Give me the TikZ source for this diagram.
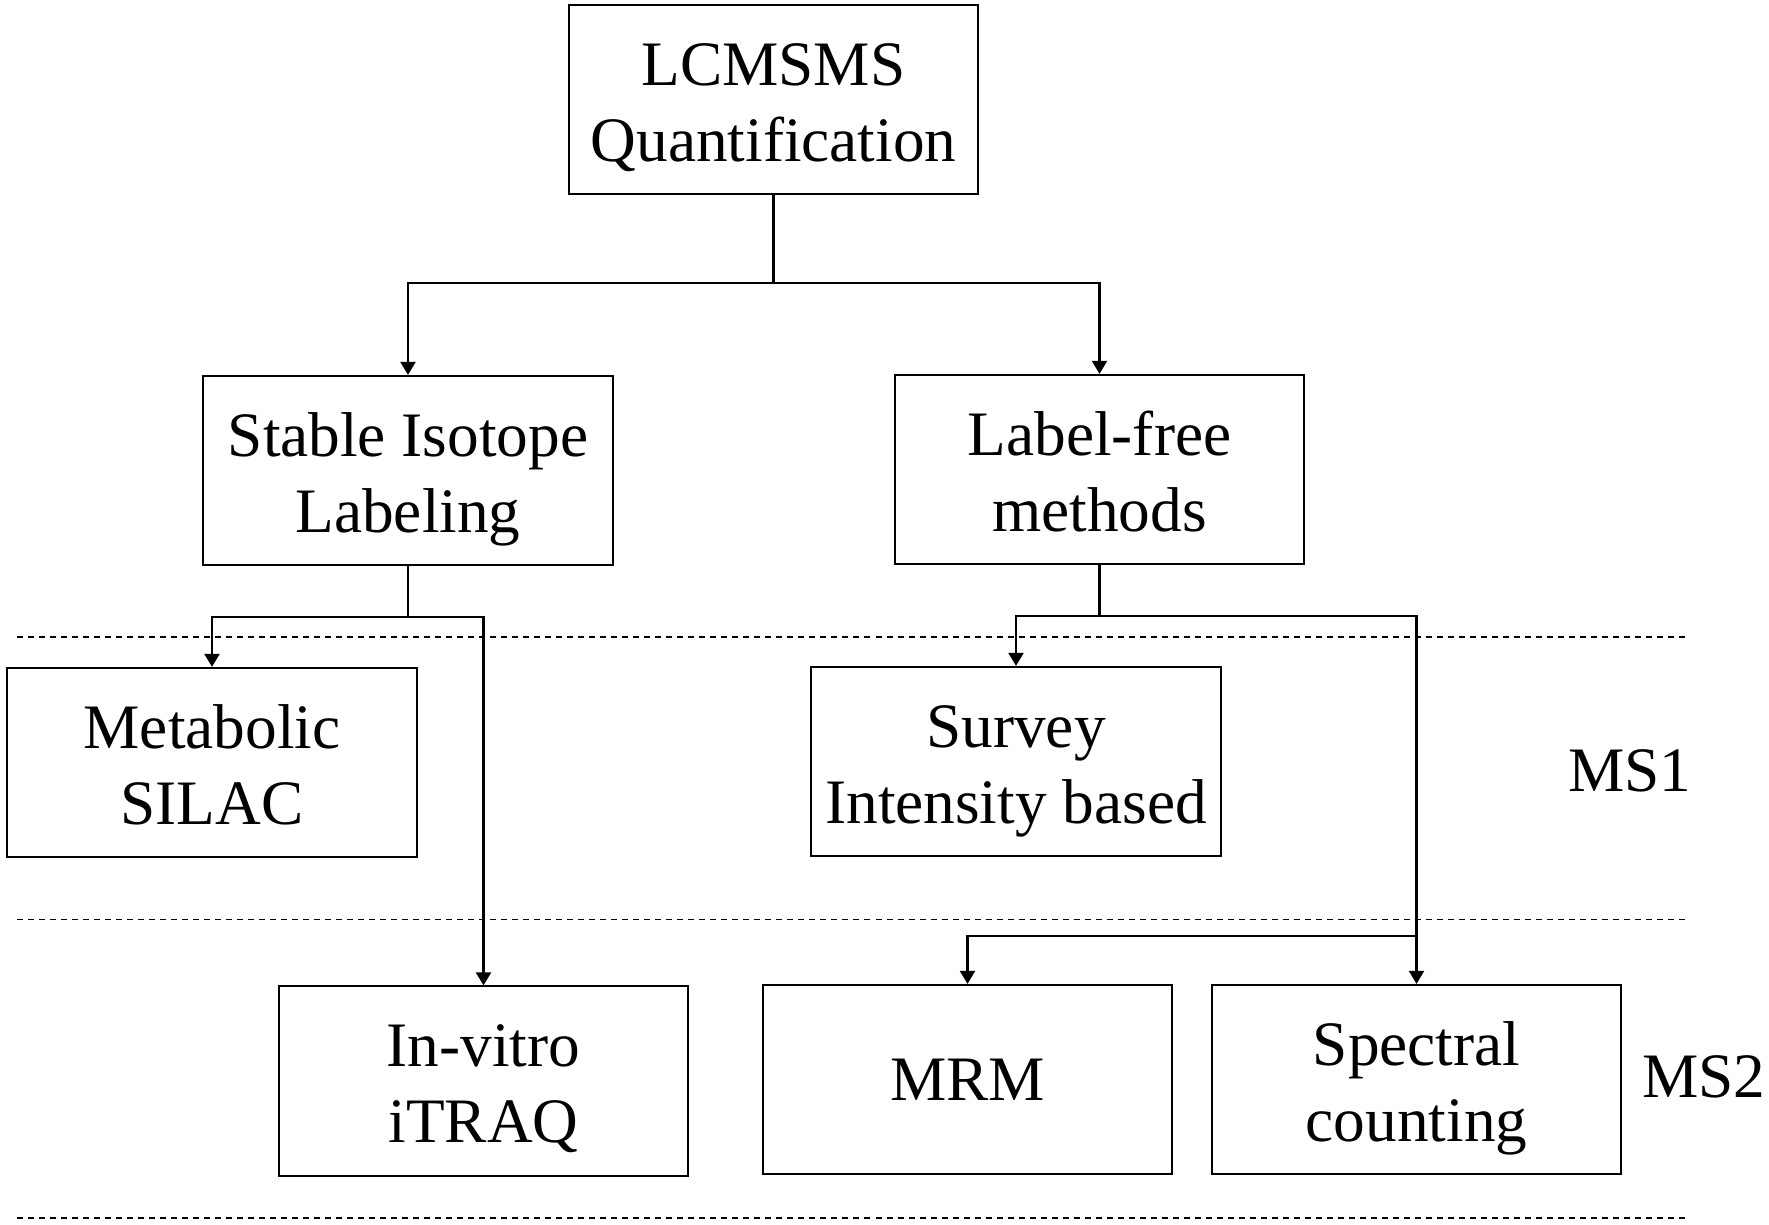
\documentclass[tikz,border=0pt]{standalone}
\usepackage{fontspec}
\setmainfont{Liberation Serif}
\usetikzlibrary{arrows.meta}

\begin{document}
\begin{tikzpicture}[x=0.01cm,y=-0.01cm,>={Triangle[length=0.13cm,width=0.15cm]},
    every node/.style={font=\fontsize{18}{21.6}\selectfont},
    box/.style={draw,line width=0.6pt,minimum width=4.09cm,minimum height=1.89cm,align=center,inner sep=0pt},
    twoline/.style={box,text height=40pt,text depth=5pt},
    link/.style={line width=0.6pt},
    level/.style={line width=0.55pt,dash pattern=on 0.06cm off 0.05cm}]
    \useasboundingbox (0,0) rectangle (1769,1225);
    % boxes
    \node[twoline] (top) at (773.5,99.5) {LCMSMS\\Quantification};
    \node[twoline] (sil) at (408,470.5) {Stable Isotope\\Labeling};
    \node[twoline] (lf) at (1099.5,469.5) {Label-free\\methods};
    \node[twoline] (metab) at (212,762.5) {Metabolic\\SILAC};
    \node[twoline] (survey) at (1016,761.5) {Survey\\Intensity based};
    \node[twoline] (itraq) at (483.5,1081) {In-vitro\\iTRAQ};
    \node[box] (mrm) at (967.5,1079.5) {MRM};
    \node[twoline] (spec) at (1416.5,1079.5) {Spectral\\counting};
    % levels
    \foreach \y in {637,919.5,1218} {
        \draw[level] (17,\y) -- (1687,\y);
    }
    \node (ms1) at (1630,771) {MS1};
    \node (ms2) at (1704,1077) {MS2};
    % connectors
    \coordinate (j1) at (773.5,283);
    \coordinate (j2) at (408,617);
    \coordinate (j3) at (1099.5,616);
    \coordinate (j4) at (1416.5,936);
    \draw[link] (top) -- (j1);
    \draw[link,->] (j1) -| (sil);
    \draw[link,->] (j1) -| (lf);
    \draw[link] (sil) -- (j2);
    \draw[link,->] (j2) -| (metab);
    \draw[link,->] (j2) -| (itraq);
    \draw[link] (lf) -- (j3);
    \draw[link,->] (j3) -| (survey);
    \draw[link,->] (j3) -| (spec);
    \draw[link,->] (j4) -| (mrm);
\end{tikzpicture}
\end{document}
